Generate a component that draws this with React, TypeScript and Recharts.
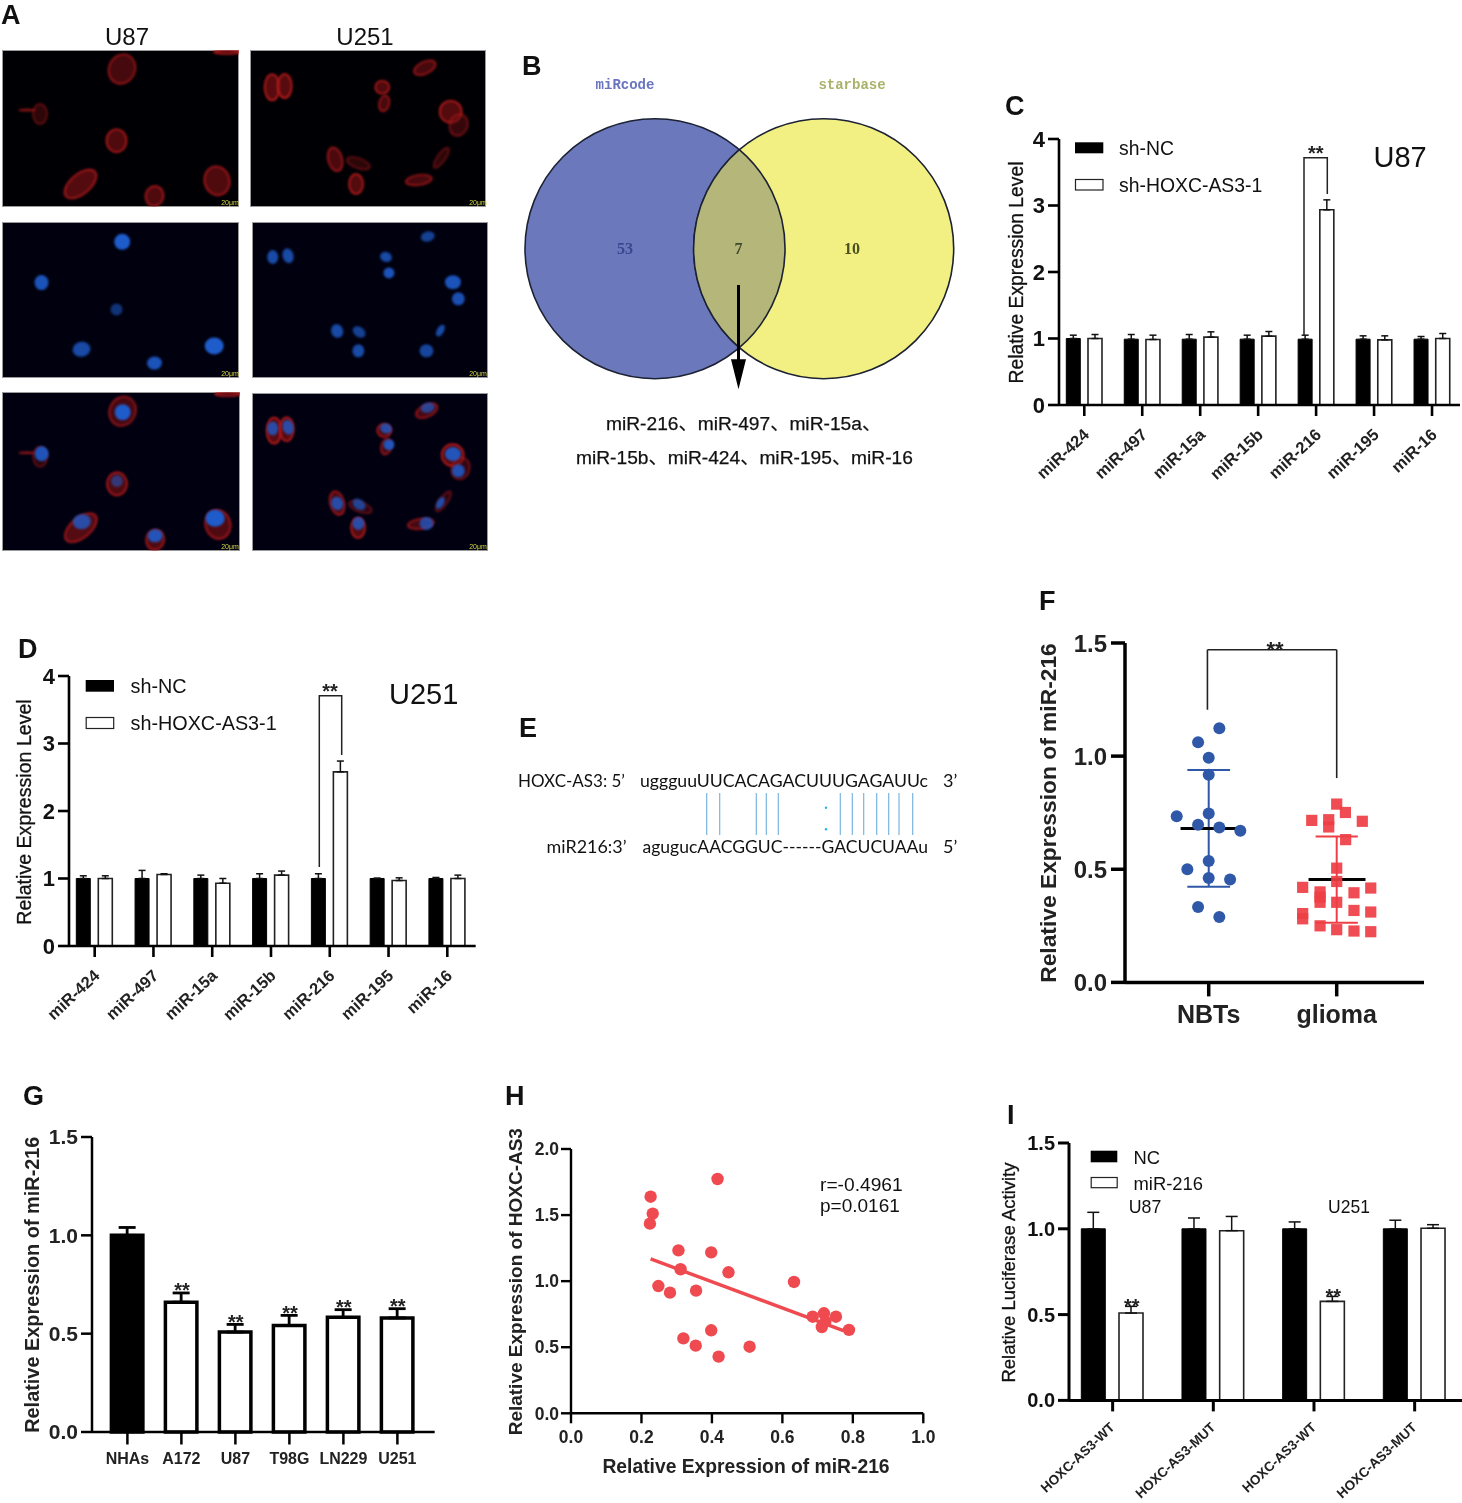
import React from 'react';
import {
  BarChart, Bar, XAxis, YAxis, Cell, ErrorBar, ScatterChart, Scatter, ReferenceLine,
} from 'recharts';

const SANS = '"Liberation Sans", Arial, sans-serif';
const MONO = '"Liberation Mono", "DejaVu Sans Mono", monospace';
const SERIF = '"Liberation Serif", "DejaVu Serif", serif';
const CALIBRI = 'Lato, "Open Sans", sans-serif';

// panels C and D
const mirLabels = ['miR-424', 'miR-497', 'miR-15a', 'miR-15b', 'miR-216', 'miR-195', 'miR-16'];
const u87Nc = [1, 0.99, 0.99, 0.99, 0.99, 0.99, 0.99];
const u87NcErr = [0.05, 0.07, 0.07, 0.06, 0.06, 0.05, 0.04];
const u87Sh = [1, 0.985, 1.02, 1.035, 2.935, 0.98, 1];
const u87ShErr = [0.06, 0.065, 0.08, 0.07, 0.15, 0.06, 0.075];
const u251Nc = [1, 1, 1, 1, 1, 1, 1];
const u251NcErr = [0.04, 0.12, 0.05, 0.07, 0.07, 0.005, 0.015];
const u251Sh = [1, 1.06, 0.93, 1.05, 2.58, 0.97, 1];
const u251ShErr = [0.04, 0.01, 0.07, 0.06, 0.16, 0.04, 0.05];

// panel F
const nbtOffset = [0.083, -0.083, 0, 0, 0, -0.25, -0.083, 0.083, 0.247, 0, -0.167, 0, 0.167, -0.083, 0.083];
const nbtValue = [1.123, 1.061, 0.993, 0.918, 0.746, 0.734, 0.697, 0.685, 0.67, 0.536, 0.5, 0.461, 0.455, 0.333, 0.289];
const gliomaOffset = [0, 0.068, -0.195, 0.2, -0.0625, -0.0625, 0.07, 0, 0, -0.266, 0.266, -0.13, 0.135, -0.13, -0.13, 0, 0.135, 0.266, -0.266, -0.266, -0.13, 0, 0.135, 0.266];
const gliomaValue = [0.788, 0.751, 0.716, 0.712, 0.719, 0.687, 0.631, 0.505, 0.446, 0.42, 0.417, 0.4, 0.396, 0.377, 0.354, 0.354, 0.318, 0.311, 0.304, 0.281, 0.25, 0.233, 0.227, 0.224];

// panel G
const lineLabels = ['NHAs', 'A172', 'U87', 'T98G', 'LN229', 'U251'];
const lineValue = [1, 0.66, 0.508, 0.542, 0.583, 0.58];
const lineErr = [0.04, 0.047, 0.039, 0.051, 0.039, 0.047];

// panel H
const corrX = [0.416, 0.226, 0.232, 0.224, 0.305, 0.398, 0.311, 0.447, 0.248, 0.281, 0.355, 0.633, 0.686, 0.718, 0.752, 0.722, 0.712, 0.789, 0.398, 0.319, 0.354, 0.507, 0.419];
const corrY = [1.773, 1.639, 1.511, 1.435, 1.233, 1.218, 1.09, 1.067, 0.963, 0.913, 0.928, 0.994, 0.731, 0.757, 0.731, 0.694, 0.653, 0.631, 0.628, 0.567, 0.512, 0.504, 0.429];

// panel I
const lucLabels = ['HOXC-AS3-WT', 'HOXC-AS3-MUT', 'HOXC-AS3-WT', 'HOXC-AS3-MUT'];
const lucNc = [1, 1, 1, 1];
const lucNcErr = [0.096, 0.063, 0.04, 0.05];
const lucMir = [0.509, 0.989, 0.577, 1.003];
const lucMirErr = [0.039, 0.083, 0.029, 0.021];

// panel A, cells as x, y, rx, ry, tilt, brightness
const u87Red = [[120, 19, 13, 15, 25, 0.8], [38, 64, 7, 10, 0, 0.5], [25, 60, 8, 0.8, 0, 0.6], [114.5, 90.7, 10, 11.5, 0, 0.9], [78.5, 134, 19, 10, -40, 0.95], [152.5, 146, 9, 10, 15, 0.9], [215, 130.7, 12.5, 14.5, -15, 0.9], [225, 2, 13, 2, 0, 0.9]];
const u87Blue = [[120.2, 20, 8, 8, 0, 1], [39.5, 61, 7, 7.5, 0, 0.9], [114.5, 88, 6, 6, 0, 0.55], [79.5, 128, 9, 7.5, -10, 0.8], [152.5, 142, 7.5, 6.5, -5, 0.9], [212.2, 124.7, 9.5, 8.5, 0, 1]];
const u251Red = [[22.2, 37.3, 7.5, 13, 0, 1], [34.8, 36, 7, 12, 0, 1], [132.8, 37.3, 7, 6.5, 0, 0.9], [134.8, 53.3, 5, 8, 15, 0.8], [175.5, 17.7, 11.5, 6, -25, 0.8], [201.5, 61.7, 11, 11, 0, 0.95], [209.5, 75, 9, 11, 20, 0.6], [192.2, 107.7, 4, 12, 35, 0.5], [85.5, 109.3, 7, 12, -15, 0.85], [108.8, 113.3, 12, 5, 20, 0.5], [106.5, 134, 7, 10, 0, 0.95], [169.5, 130, 13, 5, -8, 0.8]];
const u251Blue = [[20.8, 35.3, 5.5, 7, 0, 0.8], [36.2, 34, 5.5, 7.5, -15, 0.8], [134.5, 35.3, 6, 5, 20, 0.8], [137.5, 51.3, 5.5, 5.5, 0, 0.9], [176.5, 14.7, 7, 5, -15, 0.7], [201.8, 60.7, 8, 7, 0, 0.9], [207.2, 77.3, 6.5, 6.5, 0, 0.85], [85.5, 109.7, 6, 7, -20, 0.8], [107.5, 110.7, 7, 5, 35, 0.7], [106.8, 129.7, 6, 6.5, 0, 0.8], [189.2, 109.3, 3.5, 6.5, 30, 0.8], [175.2, 129.7, 7, 6.5, 0, 0.75]];

const toCells = (list: number[][]) => list.map(([x, y, rx, ry, tilt, glow]) => ({ x, y, rx, ry, tilt, glow }));

const redShape = (p: any) => {
  const { rx, ry, tilt, glow } = p.payload;
  return (
    <ellipse cx={p.cx} cy={p.cy} rx={rx} ry={ry} transform={`rotate(${tilt} ${p.cx} ${p.cy})`}
      fill="#6e0e12" fillOpacity={0.8 * glow} stroke="#c41c1e" strokeOpacity={glow} strokeWidth={1.6}
      style={{ filter: 'blur(0.9px)' }} />
  );
};

const blueShape = (p: any) => {
  const { rx, ry, tilt, glow } = p.payload;
  return (
    <ellipse cx={p.cx} cy={p.cy} rx={rx} ry={ry} transform={`rotate(${tilt} ${p.cx} ${p.cy})`}
      fill="#1e5ccc" fillOpacity={glow} style={{ filter: 'blur(1.2px)' }} />
  );
};

const Micrograph = ({ x, y, w, h, red, blue, bg }: any) => (
  <div style={{ position: 'absolute', left: x, top: y, width: w, height: h, background: bg, boxShadow: 'inset 0 0 0 1px #9a9a9a' }}>
    <ScatterChart width={w} height={h} margin={{ top: 0, right: 0, bottom: 0, left: 0 }}>
      <XAxis type="number" dataKey="x" domain={[0, 237]} hide />
      <YAxis type="number" dataKey="y" domain={[0, 157]} reversed hide />
      {red && <Scatter data={toCells(red)} shape={redShape} isAnimationActive={false} />}
      {blue && <Scatter data={toCells(blue)} shape={blueShape} isAnimationActive={false} />}
    </ScatterChart>
  </div>
);

const Txt = ({ x, y, size, weight, anchor, rotate, fill, family, halo, length, children }: any) => (
  <text x={x} y={y} fontSize={size} fontWeight={weight || 400} textAnchor={anchor || 'start'}
    fontFamily={family || SANS} fill={fill || '#111'}
    stroke={halo ? fill || '#111' : undefined} strokeWidth={halo || undefined}
    textLength={length} lengthAdjust={length ? 'spacingAndGlyphs' : undefined}
    transform={rotate ? `rotate(${rotate} ${x} ${y})` : undefined}>
    {children}
  </text>
);

const Stars = ({ x, y, size = 20 }: any) => (
  <Txt x={x} y={y + size * 0.56} size={size} weight={700} anchor="middle" fill="#222">**</Txt>
);

const slantTick = (labels: string[], size: number, dx: number, dy: number, angle: number) => ({ x, y, index }: any) => (
  <text x={x + dx} y={y + dy} textAnchor="end" fontFamily={SANS} fontSize={size} fontWeight={700} fill="#222"
    transform={`rotate(${angle} ${x + dx} ${y + dy})`}>
    {labels[index]}
  </text>
);

const PairedBars = ({ plot, labels, a, aErr, b, bErr, yMax, yTicks, digits, tickFont, stroke, barSize, barGap, capHalf, padding, tick }: any) => {
  const rows = labels.map((name: string, i: number) => ({
    key: `${name}-${i}`, a: a[i], aErr: [0, aErr[i]], b: b[i], bErr: [0, bErr[i]],
  }));
  return (
    <div style={{ position: 'absolute', left: plot.x - 80, top: plot.y - 20 }}>
      <BarChart width={plot.w + 80} height={plot.h + 130} data={rows} barSize={barSize} barGap={barGap}
        margin={{ top: 20, right: 0, bottom: 0, left: 0 }}>
        <XAxis dataKey="key" interval={0} height={110} tickSize={11} tickMargin={0} padding={padding}
          axisLine={{ stroke: '#000', strokeWidth: stroke }} tickLine={{ stroke: '#000', strokeWidth: stroke }} tick={tick} />
        <YAxis type="number" width={80} domain={[0, yMax]} ticks={yTicks} interval={0} tickSize={11} tickMargin={3}
          tickFormatter={(v: number) => v.toFixed(digits)}
          axisLine={{ stroke: '#000', strokeWidth: stroke }} tickLine={{ stroke: '#000', strokeWidth: stroke }}
          tick={{ fontFamily: SANS, fontWeight: 700, fontSize: tickFont, fill: '#111' }} />
        <Bar dataKey="a" fill="#000" stroke="#000" strokeWidth={1} isAnimationActive={false}>
          <ErrorBar dataKey="aErr" direction="y" width={capHalf} stroke="#111" strokeWidth={1.5} isAnimationActive={false} />
        </Bar>
        <Bar dataKey="b" fill="#fff" stroke="#222" strokeWidth={1.6} isAnimationActive={false}>
          <ErrorBar dataKey="bErr" direction="y" width={capHalf} stroke="#111" strokeWidth={1.5} isAnimationActive={false} />
        </Bar>
      </BarChart>
    </div>
  );
};

const GroupScatter = () => {
  const plot = { x: 1125, y: 643.3, w: 299, h: 339.4 };
  const nbt = nbtValue.map((y, i) => ({ x: 1 + nbtOffset[i], y }));
  const glioma = gliomaValue.map((y, i) => ({ x: 2 + gliomaOffset[i], y }));
  const seg = (x1: number, y1: number, x2: number, y2: number, color: string, w: number) => (
    <ReferenceLine segment={[{ x: x1, y: y1 }, { x: x2, y: y2 }]} stroke={color} strokeWidth={w} ifOverflow="visible" />
  );
  return (
    <div style={{ position: 'absolute', left: plot.x - 80, top: plot.y - 20 }}>
      <ScatterChart width={plot.w + 80} height={plot.h + 80} margin={{ top: 20, right: 0, bottom: 0, left: 0 }}>
        <XAxis type="number" dataKey="x" domain={[0.346, 2.682]} ticks={[1, 2]} interval={0} height={60} tickSize={14} tickMargin={9}
          tickFormatter={(v: number) => (v === 1 ? 'NBTs' : 'glioma')}
          axisLine={{ stroke: '#000', strokeWidth: 3.5 }} tickLine={{ stroke: '#000', strokeWidth: 3.5 }}
          tick={{ fontFamily: SANS, fontWeight: 700, fontSize: 25, fill: '#222' }} />
        <YAxis type="number" dataKey="y" width={80} domain={[0, 1.5]} ticks={[0, 0.5, 1, 1.5]} interval={0} tickSize={14} tickMargin={4}
          tickFormatter={(v: number) => v.toFixed(1)}
          axisLine={{ stroke: '#000', strokeWidth: 3.5 }} tickLine={{ stroke: '#000', strokeWidth: 3.5 }}
          tick={{ fontFamily: SANS, fontWeight: 700, fontSize: 24, fill: '#222' }} />
        <Scatter data={nbt} isAnimationActive={false}
          shape={(p: any) => <circle cx={p.cx} cy={p.cy} r={6} fill="#2f58a8" />} />
        <Scatter data={glioma} isAnimationActive={false}
          shape={(p: any) => <rect x={p.cx - 5.6} y={p.cy - 5.6} width={11.2} height={11.2} fill="#ee3e44" fillOpacity={0.92} />} />
        {seg(1, 0.423, 1, 0.939, '#2f58a8', 2)}
        {seg(0.833, 0.939, 1.167, 0.939, '#2f58a8', 2)}
        {seg(0.833, 0.423, 1.167, 0.423, '#2f58a8', 2)}
        {seg(2, 0.264, 2, 0.645, '#ee3e44', 2)}
        {seg(1.835, 0.645, 2.165, 0.645, '#ee3e44', 2)}
        {seg(1.835, 0.264, 2.165, 0.264, '#ee3e44', 2)}
        {seg(0.78, 0.68, 1.218, 0.68, '#000', 3)}
        {seg(1.78, 0.455, 2.225, 0.455, '#000', 3)}
        {seg(0.99, 1.205, 0.99, 1.47, '#222', 1.6)}
        {seg(0.99, 1.47, 2, 1.47, '#222', 1.6)}
        {seg(2, 1.47, 2, 0.903, '#222', 1.6)}
      </ScatterChart>
    </div>
  );
};

const LineBars = () => {
  const plot = { x: 92.3, y: 1137.3, w: 342.7, h: 295 };
  const rows = lineLabels.map((name, i) => ({ name, v: lineValue[i], err: [0, lineErr[i]] }));
  return (
    <div style={{ position: 'absolute', left: plot.x - 80, top: plot.y - 20 }}>
      <BarChart width={plot.w + 80} height={plot.h + 70} data={rows} barSize={31.5} margin={{ top: 20, right: 0, bottom: 0, left: 0 }}>
        <XAxis dataKey="name" interval={0} height={50} tickSize={12.5} tickMargin={8} padding={{ left: 8.4, right: 10.3 }}
          axisLine={{ stroke: '#000', strokeWidth: 2.5 }} tickLine={{ stroke: '#000', strokeWidth: 2.5 }}
          tick={{ fontFamily: SANS, fontWeight: 700, fontSize: 16, fill: '#222' }} />
        <YAxis type="number" width={80} domain={[0, 1.5]} ticks={[0, 0.5, 1, 1.5]} interval={0} tickSize={11} tickMargin={3}
          tickFormatter={(v: number) => v.toFixed(1)}
          axisLine={{ stroke: '#000', strokeWidth: 2.5 }} tickLine={{ stroke: '#000', strokeWidth: 2.5 }}
          tick={{ fontFamily: SANS, fontWeight: 700, fontSize: 21, fill: '#222' }} />
        <Bar dataKey="v" stroke="#000" strokeWidth={3.5} isAnimationActive={false}>
          {rows.map((r, i) => <Cell key={r.name} fill={i === 0 ? '#000' : '#fff'} />)}
          <ErrorBar dataKey="err" direction="y" width={8.5} stroke="#000" strokeWidth={2.8} isAnimationActive={false} />
        </Bar>
      </BarChart>
    </div>
  );
};

const Correlation = () => {
  const plot = { x: 571, y: 1149, w: 352.3, h: 264.3 };
  const pts = corrX.map((x, i) => ({ x, y: corrY[i] }));
  return (
    <div style={{ position: 'absolute', left: plot.x - 80, top: plot.y - 20 }}>
      <ScatterChart width={plot.w + 110} height={plot.h + 70} margin={{ top: 20, right: 30, bottom: 0, left: 0 }}>
        <XAxis type="number" dataKey="x" domain={[0, 1]} ticks={[0, 0.2, 0.4, 0.6, 0.8, 1]} interval={0} height={50} tickSize={10} tickMargin={7}
          tickFormatter={(v: number) => v.toFixed(1)}
          axisLine={{ stroke: '#000', strokeWidth: 2.4 }} tickLine={{ stroke: '#000', strokeWidth: 2.4 }}
          tick={{ fontFamily: SANS, fontWeight: 700, fontSize: 17.5, fill: '#222' }} />
        <YAxis type="number" dataKey="y" width={80} domain={[0, 2]} ticks={[0, 0.5, 1, 1.5, 2]} interval={0} tickSize={10} tickMargin={2}
          tickFormatter={(v: number) => v.toFixed(1)}
          axisLine={{ stroke: '#000', strokeWidth: 2.4 }} tickLine={{ stroke: '#000', strokeWidth: 2.4 }}
          tick={{ fontFamily: SANS, fontWeight: 700, fontSize: 17.5, fill: '#222' }} />
        <Scatter data={pts} isAnimationActive={false}
          shape={(p: any) => <circle cx={p.cx} cy={p.cy} r={6.2} fill="#ee4a50" />} />
        <ReferenceLine segment={[{ x: 0.226, y: 1.168 }, { x: 0.773, y: 0.625 }]} stroke="#ee4a50" strokeWidth={3.4} />
      </ScatterChart>
    </div>
  );
};

const pairLines = [590, 629, 739, 769, 805, 991, 1027, 1061, 1100, 1136, 1167, 1208];
const CJK = '"Liberation Sans", "Noto Sans CJK SC"';

const Venn = () => (
  <g>
    <circle cx={655} cy={248.7} r={130} fill="#6b78bc" stroke="#1c2233" strokeWidth={1.6} />
    <circle cx={823.7} cy={248.7} r={130} fill="#f3f083" stroke="#1c2233" strokeWidth={1.6} />
    <path d="M739.3 149.7 A130 130 0 0 1 739.3 347.7 A130 130 0 0 1 739.3 149.7 Z" fill="#b5b77a" stroke="#1c2233" strokeWidth={1.6} />
    <line x1={738.5} y1={285} x2={738.5} y2={360} stroke="#000" strokeWidth={3} />
    <path d="M731 359.3 L746 359.3 L738.5 389.3 Z" fill="#000" />
    <Txt x={625} y={89} size={14} weight={700} anchor="middle" family={MONO} fill="#6a74c0">miRcode</Txt>
    <Txt x={852} y={89} size={14} weight={700} anchor="middle" family={MONO} fill="#aab26a">starbase</Txt>
    <Txt x={625} y={254} size={16} weight={700} anchor="middle" family={SERIF} fill="#3c4590">53</Txt>
    <Txt x={738.5} y={254} size={16} weight={700} anchor="middle" family={SERIF} fill="#3f4a2a">7</Txt>
    <Txt x={852} y={254} size={16} weight={700} anchor="middle" family={SERIF} fill="#4a5020">10</Txt>
    <Txt x={606} y={430} size={19.2} halo={0.25} family={CJK}>miR-216、miR-497、miR-15a、</Txt>
    <Txt x={576} y={463.5} size={19.2} halo={0.25} family={CJK}>miR-15b、miR-424、miR-195、miR-16</Txt>
  </g>
);

const Overlay = () => (
  <svg width={1462} height={1503} style={{ position: 'absolute', left: 0, top: 0, pointerEvents: 'none' }}>
    {/* panel letters */}
    <Txt x={1} y={24} size={27} weight={700}>A</Txt>
    <Txt x={522} y={75} size={27} weight={700}>B</Txt>
    <Txt x={1005} y={115} size={27} weight={700}>C</Txt>
    <Txt x={18} y={658} size={27} weight={700}>D</Txt>
    <Txt x={519} y={737} size={27} weight={700}>E</Txt>
    <Txt x={1039} y={610} size={27} weight={700}>F</Txt>
    <Txt x={23} y={1105} size={27} weight={700}>G</Txt>
    <Txt x={505} y={1105} size={27} weight={700}>H</Txt>
    <Txt x={1007} y={1124} size={27} weight={700}>I</Txt>

    {/* panel A */}
    <Txt x={127} y={45} size={24} anchor="middle">U87</Txt>
    <Txt x={365} y={45} size={24} anchor="middle">U251</Txt>
    {[[230, 205], [230, 376], [230, 549], [478, 205], [478, 376], [478, 549]].map(([x, y]) => (
      <Txt key={`${x}-${y}`} x={x} y={y} size={7} anchor="middle" fill="#d4d84a">20μm</Txt>
    ))}

    <Venn />

    {/* panel C */}
    <Txt x={1023} y={272.5} size={19.3} halo={0.3} anchor="middle" rotate={-90}>Relative Expression Level</Txt>
    <rect x={1075} y={142.3} width={28.3} height={11} fill="#000" />
    <rect x={1075.5} y={179.5} width={27.5} height={10.5} fill="#fff" stroke="#222" strokeWidth={1.2} />
    <Txt x={1119} y={155} size={19.4}>sh-NC</Txt>
    <Txt x={1119} y={191.5} size={19.4}>sh-HOXC-AS3-1</Txt>
    <Txt x={1373.5} y={167} size={29}>U87</Txt>
    <path d="M1304 335 V157.7 H1327.3 V194" fill="none" stroke="#222" strokeWidth={1.5} />
    <Stars x={1315.7} y={149} />

    {/* panel D */}
    <Txt x={31} y={812} size={19.6} halo={0.3} anchor="middle" rotate={-90}>Relative Expression Level</Txt>
    <rect x={85.7} y={680} width={28.3} height={11.7} fill="#000" />
    <rect x={86.2} y={717.5} width={27.5} height={11} fill="#fff" stroke="#222" strokeWidth={1.2} />
    <Txt x={130.5} y={693} size={19.8}>sh-NC</Txt>
    <Txt x={130.5} y={730} size={19.8}>sh-HOXC-AS3-1</Txt>
    <Txt x={389} y={704} size={29}>U251</Txt>
    <path d="M319.3 867 V695.7 H341.7 V755" fill="none" stroke="#222" strokeWidth={1.5} />
    <Stars x={330} y={687} />

    {/* panel E */}
    <Txt x={518} y={787} size={18} family={CALIBRI} length={107}>HOXC-AS3: 5’</Txt>
    <Txt x={640} y={787} size={18} family={CALIBRI} length={288}>uggguuUUCACAGACUUUGAGAUUc</Txt>
    <Txt x={943} y={787} size={18} family={CALIBRI}>3’</Txt>
    <Txt x={546.5} y={853} size={18} family={CALIBRI} length={80}>miR216:3’</Txt>
    <Txt x={642.5} y={853} size={18} family={CALIBRI} length={285.5}>agugucAACGGUC------GACUCUAAu</Txt>
    <Txt x={943} y={853} size={18} family={CALIBRI}>5’</Txt>
    {pairLines.map(z => (
      <line key={z} x1={510 + z / 3} y1={793} x2={510 + z / 3} y2={835} stroke="#85bbe3" strokeWidth={1.3} />
    ))}
    <circle cx={826} cy={807.7} r={1.2} fill="#28b4e8" />
    <circle cx={826} cy={829.3} r={1.2} fill="#28b4e8" />

    {/* panel F */}
    <Txt x={1056} y={813} size={22.8} weight={700} anchor="middle" rotate={-90} fill="#222">Relative Expression of miR-216</Txt>
    <Stars x={1275} y={645} size={22} />

    {/* panel G */}
    <Txt x={39} y={1284.7} size={19.9} weight={700} anchor="middle" rotate={-90} fill="#222">Relative Expression of miR-216</Txt>
    {[[182, 1286], [235.7, 1318], [290, 1309], [343.7, 1303], [397.7, 1302]].map(([x, y]) => (
      <Stars key={x} x={x} y={y} />
    ))}

    {/* panel H */}
    <Txt x={522} y={1281.7} size={19} weight={700} anchor="middle" rotate={-90} fill="#222">Relative Expression of HOXC-AS3</Txt>
    <Txt x={746} y={1473} size={19.3} weight={700} anchor="middle" fill="#222">Relative Expression of miR-216</Txt>
    <Txt x={820} y={1191} size={19.2}>r=-0.4961</Txt>
    <Txt x={820} y={1212} size={19}>p=0.0161</Txt>

    {/* panel I */}
    <Txt x={1015} y={1272.5} size={18.5} halo={0.3} anchor="middle" rotate={-90}>Relative Luciferase Activity</Txt>
    <rect x={1090.7} y={1150.7} width={26.6} height={11.6} fill="#000" />
    <rect x={1091.2} y={1177.5} width={26} height={10.2} fill="#fff" stroke="#222" strokeWidth={1.2} />
    <Txt x={1133.5} y={1163.5} size={18.4}>NC</Txt>
    <Txt x={1133.5} y={1190} size={18.4}>miR-216</Txt>
    <Txt x={1145} y={1212.5} size={17.8} anchor="middle">U87</Txt>
    <Txt x={1349} y={1212.5} size={17.5} anchor="middle">U251</Txt>
    <Stars x={1131.7} y={1301.7} />
    <Stars x={1333.3} y={1291.7} />
  </svg>
);

export default function App() {
  return (
    <div style={{ position: 'absolute', left: 0, top: 0, width: 1462, height: 1503, background: '#fff', overflow: 'hidden', filter: 'blur(0.4px)' }}>
      <Micrograph x={1.5} y={50} w={237} h={157} red={u87Red} bg="#000004" />
      <Micrograph x={1.5} y={222} w={237} h={156} blue={u87Blue} bg="#00000f" />
      <Micrograph x={1.5} y={392} w={238} h={159} red={u87Red} blue={u87Blue} bg="#000010" />
      <Micrograph x={249.5} y={50} w={236} h={157} red={u251Red} bg="#000004" />
      <Micrograph x={251.5} y={222} w={236} h={156} blue={u251Blue} bg="#00000f" />
      <Micrograph x={251.5} y={393} w={236} h={158} red={u251Red} blue={u251Blue} bg="#000010" />

      <PairedBars plot={{ x: 1059, y: 139, w: 401, h: 266 }} labels={mirLabels} a={u87Nc} aErr={u87NcErr} b={u87Sh} bErr={u87ShErr}
        yMax={4} yTicks={[0, 1, 2, 3, 4]} digits={0} tickFont={22} stroke={2.6} barSize={14} barGap={7.7} capHalf={3.5}
        padding={{ left: -3.7, right: -1 }} tick={slantTick(mirLabels, 16.5, 6, 20, -43)} />
      <PairedBars plot={{ x: 69.3, y: 676, w: 406.7, h: 270 }} labels={mirLabels} a={u251Nc} aErr={u251NcErr} b={u251Sh} bErr={u251ShErr}
        yMax={4} yTicks={[0, 1, 2, 3, 4]} digits={0} tickFont={22} stroke={2.6} barSize={14} barGap={8} capHalf={3.5}
        padding={{ left: -3.7, right: -1 }} tick={slantTick(mirLabels, 16.5, 6, 20, -43)} />
      <PairedBars plot={{ x: 1069, y: 1143.3, w: 393, h: 257.4 }} labels={lucLabels} a={lucNc} aErr={lucNcErr} b={lucMir} bErr={lucMirErr}
        yMax={1.5} yTicks={[0, 0.5, 1, 1.5]} digits={1} tickFont={20} stroke={3} barSize={24} barGap={13.7} capHalf={6}
        padding={{ left: -6.7, right: -3 }} tick={slantTick(lucLabels, 13.5, 3, 17, -43)} />

      <GroupScatter />
      <LineBars />
      <Correlation />
      <Overlay />
    </div>
  );
}
